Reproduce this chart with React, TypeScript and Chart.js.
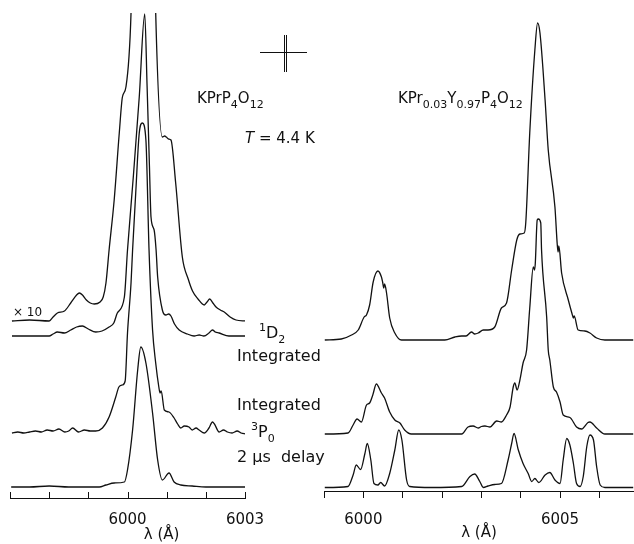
import React, { useEffect, useRef } from 'react';
import { Chart, registerables } from 'chart.js';

Chart.register(...registerables);

const FONT = '"DejaVu Sans", sans-serif';
const INK = '#111';

// ---------- axes ----------
const leftTicks = [5997, 5998, 5999, 6000, 6001, 6002, 6003];
const leftTickLabels = ['', '', '', '6000', '', '', '6003'];
const rightTicks = [5999, 6000, 6001, 6002, 6003, 6004, 6005, 6006];
const rightTickLabels = ['', '6000', '', '', '', '', '6005', ''];
const axisTitle = 'λ (Å)';

// ---------- left panel : KPrP4O12 ----------
// 1D2 integrated, x10
const lamA = [5997.05, 5997.5, 5998.0, 5998.1, 5998.21, 5998.39, 5998.55, 5998.7, 5998.77, 5998.85, 5998.95, 5999.05, 5999.15, 5999.3, 5999.38, 5999.45, 5999.53, 5999.66, 5999.79, 5999.87, 5999.96, 6000.09, 6000.43, 6000.72, 6000.89, 6000.95, 6000.99, 6001.05, 6001.11, 6001.23, 6001.40, 6001.55, 6001.66, 6001.80, 6001.96, 6002.03, 6002.10, 6002.18, 6002.26, 6002.37, 6002.47, 6002.62, 6002.77, 6003.02];
const intA = [0, 1, 0, 4, 8, 10, 18, 26, 28, 26, 21, 18, 17, 19, 24, 38, 71, 121, 188, 224, 234, 308, 950, 308, 184, 185, 184, 182, 181, 138, 64, 42, 30, 22, 16, 19, 22, 18, 14, 11, 9, 4, 1, 0];
// 1D2 integrated
const lamB = [5997.05, 5997.6, 5998.0, 5998.1, 5998.21, 5998.39, 5998.55, 5998.7, 5998.85, 5999.0, 5999.19, 5999.35, 5999.53, 5999.65, 5999.74, 5999.92, 6000.0, 6000.15, 6000.30, 6000.44, 6000.50, 6000.56, 6000.60, 6000.68, 6000.73, 6000.77, 6000.89, 6000.98, 6001.05, 6001.11, 6001.2, 6001.32, 6001.53, 6001.7, 6001.83, 6001.95, 6002.08, 6002.17, 6002.24, 6002.34, 6002.59, 6003.02];
const intB = [0, 0, 0, 2, 4, 3, 6, 9, 10, 7, 4, 5, 9, 13, 23, 39, 86, 160, 239, 322, 250, 170, 119, 106, 86, 59, 26, 21, 22, 20, 12, 6, 2, 0, 1, 0, 3, 6, 4, 3, 0, 0];
// 3P0 integrated
const lamC = [5997.05, 5997.2, 5997.35, 5997.5, 5997.65, 5997.8, 5997.95, 5998.1, 5998.25, 5998.4, 5998.5, 5998.6, 5998.75, 5998.9, 5999.05, 5999.19, 5999.36, 5999.53, 5999.70, 5999.78, 5999.87, 5999.94, 6000.0, 6000.09, 6000.13, 6000.21, 6000.30, 6000.38, 6000.47, 6000.55, 6000.64, 6000.72, 6000.80, 6000.83, 6000.86, 6000.94, 6001.06, 6001.19, 6001.28, 6001.36, 6001.45, 6001.57, 6001.65, 6001.75, 6001.83, 6001.96, 6002.08, 6002.17, 6002.22, 6002.34, 6002.45, 6002.55, 6002.67, 6002.8, 6002.9, 6003.02];
const intC = [0, 1, 0, 1, 2, 1, 3, 2, 4, 1, 2, 5, 1, 3, 2, 2, 5, 16, 36, 46, 48, 52, 100, 150, 183, 240, 300, 310, 293, 183, 103, 70, 46, 40, 42, 23, 21, 15, 9, 5, 7, 6, 3, 5, 3, 0, 5, 11, 9, 1, 3, 1, 0, 2, 0, -1];
// 3P0, 2 us delay
const lamD = [5997.03, 5997.5, 5998.0, 5998.5, 5999.0, 5999.28, 5999.45, 5999.66, 5999.92, 6000.0, 6000.13, 6000.26, 6000.34, 6000.47, 6000.64, 6000.77, 6000.89, 6001.06, 6001.19, 6001.36, 6001.65, 6002.0, 6002.5, 6003.02];
const intD = [0, 0, 1, 0, 0, 0, 2, 4, 5, 17, 57, 117, 140, 124, 74, 27, 7, 14, 5, 2, 1, 0, 0, 0];
const leftOffsets = [177, 162, 65, 11];

// ---------- right panel : KPr0.03Y0.97P4O12 ----------
const lamE = [5999.02, 5999.44, 5999.70, 5999.87, 6000.02, 6000.08, 6000.16, 6000.25, 6000.37, 6000.46, 6000.49, 6000.52, 6000.54, 6000.59, 6000.67, 6000.80, 6000.97, 6002.07, 6002.33, 6002.50, 6002.61, 6002.75, 6002.83, 6002.92, 6003.05, 6003.17, 6003.34, 6003.51, 6003.64, 6003.77, 6003.90, 6003.98, 6004.09, 6004.13, 6004.23, 6004.36, 6004.43, 6004.49, 6004.62, 6004.70, 6004.87, 6004.93, 6004.95, 6004.97, 6005.04, 6005.21, 6005.30, 6005.34, 6005.36, 6005.46, 6005.63, 6005.76, 6005.93, 6006.14, 6006.86];
const intE = [0, 1, 5, 10, 23, 25, 35, 58, 69, 63, 58, 52, 56, 47, 22, 7, 0, 0, 3, 4, 4, 8, 6, 7, 10, 10, 13, 32, 37, 70, 100, 106, 107, 118, 207, 290, 317, 307, 240, 190, 133, 95, 88, 94, 67, 40, 27, 22, 24, 10, 9, 7, 2, 0, 0];
const lamF = [5999.02, 5999.61, 5999.74, 5999.84, 5999.95, 6000.08, 6000.16, 6000.24, 6000.33, 6000.46, 6000.54, 6000.67, 6000.80, 6000.93, 6001.05, 6001.22, 6002.50, 6002.66, 6002.79, 6002.92, 6003.00, 6003.09, 6003.22, 6003.39, 6003.51, 6003.64, 6003.73, 6003.81, 6003.85, 6003.91, 6003.98, 6004.06, 6004.15, 6004.23, 6004.32, 6004.35, 6004.37, 6004.42, 6004.45, 6004.51, 6004.53, 6004.66, 6004.70, 6004.74, 6004.83, 6004.91, 6005.00, 6005.08, 6005.25, 6005.42, 6005.55, 6005.71, 6005.76, 6005.93, 6006.14, 6006.86];
const intF = [0, 1, 9, 15, 12, 29, 31, 39, 50, 41, 36, 22, 14, 11, 4, 0, 0, 7, 8, 6, 7.5, 8, 7, 13, 12, 19, 27, 47, 51, 44, 54, 71, 84, 126, 167, 164, 170, 214, 215, 211, 184, 117, 84, 74, 47, 42, 32, 19, 16.5, 7, 5, 11.5, 12, 6, 0, 0];
const lamG = [5999.02, 5999.61, 5999.74, 5999.82, 5999.93, 6000.04, 6000.10, 6000.19, 6000.27, 6000.37, 6000.44, 6000.54, 6000.67, 6000.80, 6000.90, 6000.98, 6001.10, 6001.18, 6001.73, 6002.50, 6002.71, 6002.83, 6002.96, 6003.05, 6003.17, 6003.34, 6003.51, 6003.68, 6003.77, 6003.83, 6003.94, 6004.06, 6004.19, 6004.28, 6004.36, 6004.46, 6004.62, 6004.74, 6004.87, 6005.00, 6005.08, 6005.17, 6005.25, 6005.34, 6005.42, 6005.51, 6005.59, 6005.68, 6005.76, 6005.85, 6005.93, 6006.02, 6006.14, 6006.86];
const intG = [0, 1, 12.5, 22.5, 18, 34, 44, 27.5, 4, 2.5, 5, 1.5, 14, 37.5, 57.5, 47.5, 7.5, 1, 0, 1, 11, 13.5, 6, 0, 1.5, 3, 4, 27.5, 44, 54, 37.5, 24, 14, 6, 9, 5, 12.5, 15, 7.5, 4, 27.5, 49, 42.5, 24, 4, 1, 11, 41, 52.5, 47.5, 21, 2.5, 0, 0];
const rightOffsets = [151, 57, 3.5];

type Seg = { t: string; sub?: boolean; sup?: boolean; italic?: boolean };

function drawRich(ctx: CanvasRenderingContext2D, x: number, y: number, segs: Seg[], size: number) {
  let cx = x;
  for (const s of segs) {
    const small = s.sub || s.sup;
    const fs = small ? Math.round(size * 0.7) : size;
    ctx.font = `${s.italic ? 'italic ' : ''}${fs}px ${FONT}`;
    const dy = s.sub ? size * 0.3 : s.sup ? -size * 0.42 : 0;
    ctx.fillText(s.t, cx, y + dy);
    cx += ctx.measureText(s.t).width;
  }
}

function series(lam: number[], val: number[], off: number) {
  return lam.map((l, i) => ({ x: l, y: val[i] + off }));
}

function ds(data: { x: number; y: number }[]) {
  return {
    data,
    borderColor: INK,
    borderWidth: 1.3,
    pointRadius: 0,
    fill: false,
    cubicInterpolationMode: 'monotone' as const,
  };
}

const leftDecor = {
  id: 'leftDecor',
  afterDraw(chart: any) {
    const ctx: CanvasRenderingContext2D = chart.ctx;
    const xs = chart.scales.x;
    const area = chart.chartArea;
    ctx.save();
    ctx.strokeStyle = INK;
    ctx.fillStyle = INK;
    ctx.lineWidth = 1;
    for (const v of leftTicks) {
      const px = Math.round(xs.getPixelForValue(v)) + 0.5;
      ctx.beginPath();
      ctx.moveTo(px, area.bottom);
      ctx.lineTo(px, area.bottom - 6);
      ctx.stroke();
    }
    ctx.textAlign = 'center';
    ctx.textBaseline = 'alphabetic';
    ctx.font = `15px ${FONT}`;
    ctx.fillText(axisTitle, xs.getPixelForValue(6000.87), 539);

    // resolution marker
    ctx.beginPath();
    ctx.moveTo(260, 52.5); ctx.lineTo(307, 52.5);
    ctx.moveTo(284.5, 35); ctx.lineTo(284.5, 72);
    ctx.moveTo(286.5, 35); ctx.lineTo(286.5, 72);
    ctx.stroke();

    ctx.textAlign = 'left';
    drawRich(ctx, 197, 103, [{ t: 'KPrP' }, { t: '4', sub: true }, { t: 'O' }, { t: '12', sub: true }], 15);
    drawRich(ctx, 245, 143, [{ t: 'T', italic: true }, { t: ' = 4.4 K' }], 15);
    drawRich(ctx, 398, 103, [{ t: 'KPr' }, { t: '0.03', sub: true }, { t: 'Y' }, { t: '0.97', sub: true }, { t: 'P' }, { t: '4', sub: true }, { t: 'O' }, { t: '12', sub: true }], 15);
    drawRich(ctx, 13, 316, [{ t: '× 10' }], 12);
    drawRich(ctx, 259, 338, [{ t: '1', sup: true }, { t: 'D' }, { t: '2', sub: true }], 16);
    drawRich(ctx, 237, 361, [{ t: 'Integrated' }], 16);
    drawRich(ctx, 237, 410, [{ t: 'Integrated' }], 16);
    drawRich(ctx, 251, 437, [{ t: '3', sup: true }, { t: 'P' }, { t: '0', sub: true }], 16);
    drawRich(ctx, 237, 462, [{ t: '2 µs  delay' }], 16);
    ctx.restore();
  },
};

function makeXScale(min: number, max: number, ticks: number[], labels: string[], height: number, tickLength: number, tickColor: string, padding: number, title: boolean) {
  return {
    type: 'linear' as const,
    min,
    max,
    afterFit: (scale: any) => { scale.height = height; },
    afterBuildTicks: (scale: any) => { scale.ticks = ticks.map((v) => ({ value: v })); },
    grid: { display: true, drawOnChartArea: false, drawTicks: true, tickLength, color: INK, tickColor, lineWidth: 1 },
    border: { display: true, color: INK, width: 1 },
    ticks: {
      autoSkip: false,
      maxRotation: 0,
      padding,
      color: INK,
      font: { family: FONT, size: 15 },
      callback: (v: any) => { const i = ticks.indexOf(Number(v)); return i >= 0 ? labels[i] : ''; },
    },
    title: { display: title, text: axisTitle, color: INK, font: { family: FONT, size: 15 }, padding: { top: 0, bottom: 2 } },
  };
}

export default function App() {
  const leftRef = useRef<HTMLCanvasElement>(null);
  const rightRef = useRef<HTMLCanvasElement>(null);

  useEffect(() => {
    const left = new Chart(leftRef.current!, {
      type: 'line',
      data: {
        datasets: [
          ds(series(lamA, intA, leftOffsets[0])),
          ds(series(lamB, intB, leftOffsets[1])),
          ds(series(lamC, intC, leftOffsets[2])),
          ds(series(lamD, intD, leftOffsets[3])),
        ],
      },
      options: {
        animation: false,
        responsive: false,
        devicePixelRatio: 1,
        layout: { padding: { left: 10, right: 389, top: 13, bottom: 0 } },
        plugins: { legend: { display: false }, tooltip: { enabled: false } },
        scales: {
          x: makeXScale(5997, 6003, leftTicks, leftTickLabels, 46, 10, 'rgba(0,0,0,0)', 3, false),
          y: { display: false, min: 0, max: 485 },
        },
      },
      plugins: [leftDecor],
    });
    const right = new Chart(rightRef.current!, {
      type: 'line',
      data: {
        datasets: [
          ds(series(lamE, intE, rightOffsets[0])),
          ds(series(lamF, intF, rightOffsets[1])),
          ds(series(lamG, intG, rightOffsets[2])),
        ],
      },
      options: {
        animation: false,
        responsive: false,
        devicePixelRatio: 1,
        layout: { padding: { left: 324, right: 0, top: 13, bottom: 0 } },
        plugins: { legend: { display: false }, tooltip: { enabled: false } },
        scales: {
          x: makeXScale(5999, 6006.88, rightTicks, rightTickLabels, 53, 7, INK, 13, true),
          y: { display: false, min: 0, max: 478 },
        },
      },
    });
    return () => { left.destroy(); right.destroy(); };
  }, []);

  const cv: React.CSSProperties = { position: 'absolute', left: 0, top: 0 };
  return (
    <div style={{ position: 'fixed', left: 0, top: 0, width: 634, height: 544, background: '#fff' }}>
      <canvas ref={leftRef} width={634} height={544} style={cv} />
      <canvas ref={rightRef} width={634} height={544} style={cv} />
    </div>
  );
}
